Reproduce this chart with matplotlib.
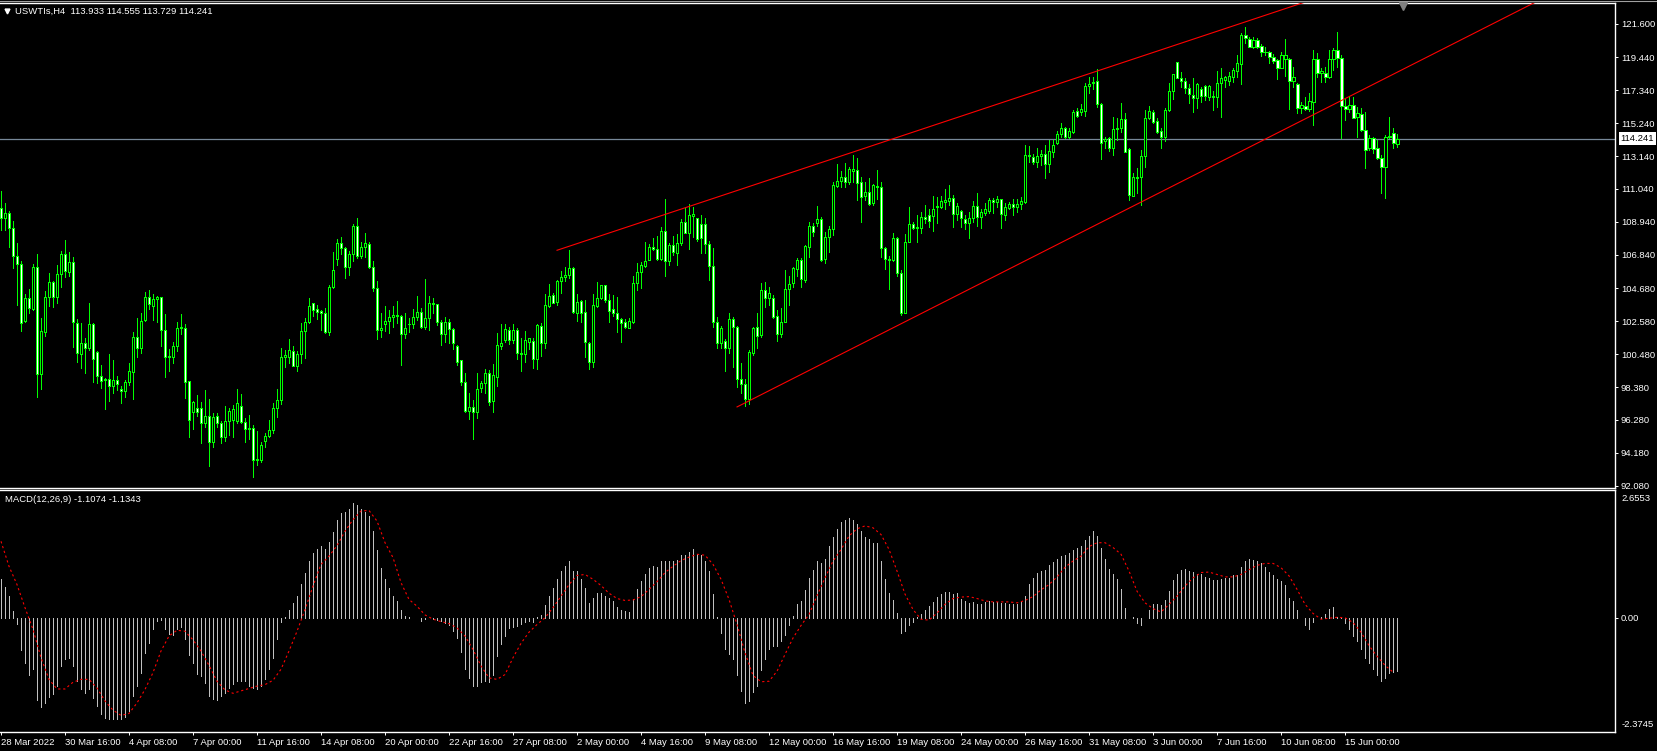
import numpy as np
import matplotlib.pyplot as plt
import matplotlib.transforms as mtransforms
from matplotlib.lines import Line2D

plt.rcParams['font.family'] = ['Liberation Sans', 'DejaVu Sans']
plt.rcParams['font.size'] = 6.8

# USWTIs H4 candles, bar 0 = 28 Mar 2022 00:00
open_px = [
    109.80, 109.16, 109.48, 108.57, 106.73, 106.22, 102.60, 104.05, 103.37, 106.07,
    99.20, 101.92, 104.12, 105.08, 104.16, 105.58, 106.86, 105.76, 106.39, 102.45,
    100.47, 101.18, 100.86, 102.39, 100.60, 99.11, 98.90, 98.87, 98.47, 98.83,
    98.24, 98.15, 98.68, 99.37, 101.56, 100.86, 102.67, 104.12, 103.58, 103.99,
    104.12, 102.03, 100.32, 100.28, 101.03, 102.13, 102.13, 98.77, 96.81, 97.02,
    97.02, 96.06, 96.53, 94.89, 96.55, 96.06, 95.17, 96.21, 96.28, 96.23,
    97.19, 96.17, 95.74, 95.74, 93.72, 93.72, 94.94, 95.25, 95.64, 97.02,
    97.55, 100.28, 100.28, 100.71, 99.75, 100.47, 101.98, 102.56, 103.73, 103.35,
    103.24, 103.09, 101.92, 104.75, 106.59, 107.57, 107.25, 106.03, 106.86, 108.67,
    106.78, 107.31, 107.50, 106.03, 104.69, 102.01, 102.39, 102.62, 102.84, 102.94,
    102.94, 101.75, 102.39, 102.41, 102.88, 103.20, 102.24, 102.82, 103.73, 103.67,
    102.56, 101.75, 102.52, 102.07, 101.03, 100.09, 98.68, 96.87, 97.09, 96.77,
    98.34, 98.62, 99.26, 97.51, 99.05, 101.03, 101.39, 102.03, 101.39, 102.03,
    100.54, 100.47, 101.28, 101.33, 100.15, 102.28, 101.18, 103.58, 104.26, 103.84,
    105.16, 105.39, 105.54, 105.97, 103.09, 103.88, 103.16, 101.22, 99.96, 103.58,
    104.05, 104.90, 103.95, 103.35, 103.09, 102.73, 102.56, 102.18, 102.56, 105.01,
    105.76, 106.14, 106.50, 107.31, 107.18, 106.59, 108.35, 106.46, 107.46, 106.93,
    107.57, 108.91, 108.25, 109.33, 109.16, 108.80, 108.78, 107.50, 106.14, 102.56,
    101.22, 101.35, 100.86, 102.73, 102.20, 98.90, 98.60, 97.60, 100.54, 102.20,
    101.71, 104.55, 104.06, 104.06, 102.95, 101.76, 102.56, 104.63, 105.01, 105.91,
    106.50, 105.23, 107.36, 108.68, 108.89, 109.10, 106.55, 107.99, 108.46, 111.25,
    111.53, 111.79, 111.51, 112.21, 112.26, 111.47, 110.59, 110.87, 110.13, 111.23,
    111.15, 107.25, 106.55, 106.50, 107.89, 105.65, 103.14, 107.68, 108.80, 108.59,
    108.53, 109.27, 109.38, 109.32, 109.87, 109.91, 110.23, 110.30, 110.45, 109.42,
    109.66, 109.13, 108.85, 109.17, 109.98, 109.23, 109.53, 109.66, 110.34, 110.19,
    110.38, 109.38, 109.81, 110.06, 109.91, 110.06, 110.23, 113.21, 113.11, 112.79,
    113.15, 113.27, 112.63, 113.42, 113.95, 114.53, 114.91, 114.38, 114.70, 116.02,
    115.97, 116.02, 117.61, 117.78, 117.93, 116.44, 114.12, 114.31, 113.63, 114.85,
    114.91, 115.51, 113.57, 110.61, 111.82, 111.82, 113.16, 115.55, 115.93, 115.40,
    114.74, 114.38, 116.08, 117.30, 119.13, 118.15, 117.93, 117.51, 117.04, 116.87,
    117.42, 117.61, 116.93, 116.93, 116.93, 117.79, 117.99, 117.93, 118.17, 118.57,
    119.00, 120.87, 120.60, 120.13, 120.55, 120.17, 119.77, 119.77, 119.49, 119.28,
    118.79, 119.32, 119.32, 117.95, 117.72, 116.23, 116.34, 116.15, 116.57, 119.32,
    118.47, 118.47, 118.21, 119.32, 119.92, 119.38, 116.34, 116.12, 116.40, 115.61,
    115.80, 114.80, 113.63, 114.27, 113.63, 113.00, 112.46, 114.38, 114.59, 113.933,
]
high_px = [
    110.91, 110.12, 109.65, 108.99, 107.57, 106.44, 104.31, 104.63, 106.22, 106.86,
    102.77, 104.52, 105.65, 105.16, 106.16, 107.08, 107.78, 106.99, 106.71, 102.71,
    102.45, 101.50, 103.73, 102.45, 100.69, 99.79, 98.94, 100.49, 100.11, 99.09,
    98.45, 98.83, 99.90, 101.88, 102.77, 103.09, 104.48, 104.58, 104.31, 104.20,
    104.16, 103.05, 100.79, 101.24, 102.52, 103.05, 102.39, 98.77, 97.49, 97.87,
    97.45, 98.19, 97.62, 96.70, 96.75, 96.21, 97.17, 97.02, 97.21, 98.26,
    97.94, 96.43, 96.60, 95.96, 95.57, 94.87, 95.42, 96.28, 97.34, 98.26,
    100.86, 100.75, 101.45, 101.01, 100.69, 102.50, 102.77, 104.07, 103.77, 103.60,
    103.31, 103.45, 104.90, 107.03, 107.82, 107.97, 107.31, 107.08, 108.80, 109.16,
    107.63, 108.21, 107.65, 106.44, 105.16, 103.09, 103.56, 103.31, 103.56, 103.88,
    102.99, 103.09, 102.77, 103.37, 104.20, 103.41, 105.29, 104.20, 104.05, 103.69,
    102.67, 102.88, 102.73, 102.14, 101.07, 100.11, 99.26, 98.02, 97.56, 99.26,
    98.77, 99.52, 99.47, 99.83, 101.82, 102.39, 102.41, 102.24, 102.41, 102.14,
    101.50, 101.96, 101.54, 101.50, 102.41, 102.45, 104.33, 104.97, 104.37, 105.22,
    105.80, 106.08, 107.14, 106.08, 104.33, 103.95, 103.95, 101.28, 104.33, 105.07,
    104.90, 104.90, 104.31, 104.26, 104.16, 102.77, 102.73, 102.77, 105.50, 106.29,
    106.40, 107.63, 107.52, 107.89, 108.03, 108.59, 110.38, 107.61, 108.06, 108.16,
    109.12, 109.80, 110.06, 109.91, 109.21, 109.38, 109.16, 107.72, 107.25, 102.88,
    102.29, 101.43, 103.10, 102.84, 102.25, 99.90, 98.90, 100.75, 102.24, 103.10,
    105.01, 105.08, 104.80, 104.27, 103.31, 103.41, 105.87, 105.48, 106.08, 106.61,
    106.61, 107.46, 108.95, 108.89, 109.95, 109.27, 108.27, 108.68, 111.51, 112.64,
    112.19, 112.68, 112.47, 113.21, 113.00, 111.77, 111.47, 111.72, 111.34, 112.26,
    111.47, 107.36, 106.76, 108.21, 107.95, 105.87, 108.14, 109.87, 108.95, 109.38,
    109.55, 110.02, 109.76, 110.59, 110.55, 110.59, 111.02, 111.30, 110.66, 110.13,
    109.70, 109.38, 109.59, 110.27, 110.79, 109.76, 110.13, 110.45, 110.45, 110.59,
    110.38, 110.17, 110.23, 110.38, 110.38, 110.51, 113.85, 113.79, 113.28, 113.64,
    113.53, 113.84, 114.16, 114.16, 114.74, 115.23, 115.02, 114.91, 116.08, 116.19,
    116.46, 117.79, 118.21, 118.21, 118.70, 116.51, 114.33, 114.38, 115.61, 115.55,
    116.51, 115.87, 113.63, 112.03, 112.35, 113.53, 116.08, 116.34, 116.08, 115.55,
    114.95, 116.19, 117.83, 118.38, 119.17, 118.53, 118.10, 117.72, 118.10, 117.78,
    117.57, 117.68, 117.68, 117.30, 118.59, 118.74, 118.25, 118.53, 118.74, 119.60,
    121.02, 121.36, 120.72, 120.72, 120.66, 120.30, 120.13, 119.87, 119.64, 119.34,
    119.81, 120.60, 119.38, 118.85, 117.78, 116.61, 116.89, 117.19, 119.92, 119.75,
    118.74, 118.85, 119.92, 120.06, 121.09, 119.60, 116.78, 116.93, 116.89, 116.29,
    116.23, 115.97, 114.48, 114.38, 114.16, 113.21, 114.48, 115.66, 114.91, 114.555,
]
low_px = [
    108.42, 108.42, 107.35, 106.01, 103.63, 101.98, 102.56, 103.14, 103.31, 97.77,
    98.26, 101.64, 103.56, 103.52, 103.77, 104.80, 105.44, 105.48, 100.96, 100.00,
    99.62, 99.26, 100.75, 98.73, 98.66, 98.34, 96.96, 97.51, 97.98, 98.19,
    97.34, 97.77, 98.51, 97.60, 100.32, 100.58, 102.60, 103.37, 102.67, 102.56,
    101.03, 99.05, 99.43, 99.94, 100.69, 101.75, 97.70, 95.21, 95.68, 96.53,
    94.83, 95.85, 93.36, 94.57, 95.85, 94.79, 94.94, 95.32, 95.21, 96.06,
    96.06, 94.89, 95.04, 92.66, 93.40, 93.62, 94.57, 95.17, 95.47, 96.49,
    97.30, 99.68, 99.90, 99.75, 99.43, 99.94, 100.26, 102.50, 102.92, 102.75,
    102.03, 101.86, 101.71, 104.69, 106.18, 106.86, 105.37, 105.54, 106.44, 106.65,
    106.65, 106.71, 106.01, 104.54, 101.43, 101.60, 101.96, 101.82, 102.24, 102.45,
    99.79, 101.50, 101.92, 102.14, 102.67, 102.18, 102.09, 102.03, 103.09, 102.35,
    101.07, 101.28, 101.22, 100.81, 99.79, 98.51, 96.81, 96.32, 95.06, 96.38,
    98.09, 97.98, 97.24, 96.81, 98.47, 100.81, 101.24, 101.11, 101.22, 100.15,
    99.41, 100.00, 100.81, 99.62, 99.54, 100.39, 100.90, 103.48, 103.73, 103.63,
    104.41, 105.18, 105.33, 103.09, 102.60, 102.56, 100.28, 99.54, 99.69, 103.52,
    104.01, 103.84, 102.52, 102.94, 101.92, 101.28, 102.14, 102.14, 102.50, 104.58,
    104.73, 106.08, 106.50, 107.14, 106.50, 106.50, 105.50, 106.18, 106.82, 106.18,
    107.46, 108.21, 107.20, 107.99, 107.74, 106.93, 106.93, 105.22, 102.24, 100.86,
    100.86, 99.43, 100.58, 99.69, 98.40, 98.00, 97.15, 97.30, 100.43, 100.86,
    101.61, 103.48, 103.63, 102.82, 101.33, 101.61, 102.52, 103.63, 104.80, 105.48,
    104.80, 105.12, 106.72, 108.04, 108.68, 106.46, 106.33, 107.04, 108.10, 111.19,
    111.19, 111.19, 111.36, 111.47, 110.34, 108.95, 110.34, 110.02, 110.02, 110.40,
    106.72, 105.93, 104.65, 106.46, 105.48, 102.99, 103.10, 107.63, 108.46, 107.68,
    108.25, 108.85, 108.59, 108.32, 108.89, 109.85, 109.76, 110.02, 108.59, 109.06,
    108.63, 108.46, 107.89, 108.95, 108.70, 108.53, 109.38, 109.53, 109.49, 109.91,
    108.53, 109.06, 109.74, 109.38, 109.59, 109.76, 110.17, 112.79, 112.64, 112.47,
    112.58, 111.76, 112.14, 113.10, 113.91, 114.34, 114.27, 114.27, 114.59, 115.66,
    115.76, 115.72, 117.19, 117.40, 116.30, 112.95, 113.67, 113.48, 113.21, 114.16,
    114.70, 113.38, 110.33, 110.59, 110.76, 110.01, 112.46, 115.48, 115.27, 114.63,
    113.63, 114.10, 116.04, 116.76, 118.10, 117.57, 117.19, 116.51, 115.97, 116.23,
    116.61, 116.72, 116.72, 116.08, 116.25, 115.66, 117.57, 117.68, 117.89, 118.21,
    117.74, 120.39, 120.09, 120.06, 120.02, 119.55, 119.60, 119.06, 119.06, 118.06,
    118.74, 118.25, 116.15, 117.57, 115.87, 115.91, 116.08, 116.02, 115.12, 118.21,
    117.89, 117.89, 118.10, 118.64, 118.85, 114.27, 115.44, 115.93, 115.55, 114.38,
    114.76, 112.40, 113.53, 113.31, 112.95, 110.80, 110.48, 114.27, 113.63, 113.729,
]
close_px = [
    109.16, 109.48, 108.57, 106.78, 106.22, 102.45, 104.05, 103.41, 106.03, 99.20,
    101.98, 104.16, 105.08, 104.16, 105.61, 106.86, 105.80, 106.35, 102.56, 100.54,
    101.18, 100.86, 102.39, 100.15, 99.11, 98.77, 98.83, 98.47, 98.83, 98.56,
    98.13, 98.68, 99.41, 101.56, 100.86, 102.60, 104.12, 103.67, 103.99, 104.16,
    102.03, 100.32, 100.37, 101.03, 102.13, 102.20, 98.73, 96.28, 97.41, 96.81,
    96.06, 96.55, 94.89, 96.45, 96.06, 95.17, 96.23, 96.87, 96.96, 97.34,
    96.13, 95.68, 95.70, 93.72, 93.78, 94.68, 95.25, 95.64, 97.02, 97.55,
    100.28, 100.43, 100.75, 99.75, 100.47, 101.98, 102.56, 103.56, 103.31, 103.20,
    103.09, 101.92, 104.75, 105.84, 107.57, 107.25, 106.03, 106.86, 108.67, 106.78,
    107.31, 107.57, 106.08, 104.69, 102.01, 102.14, 102.62, 102.84, 102.97, 102.99,
    101.75, 102.14, 102.43, 102.88, 103.20, 102.24, 102.77, 103.73, 103.67, 102.56,
    101.75, 102.56, 102.07, 101.22, 100.00, 98.68, 96.87, 97.09, 96.77, 98.26,
    98.62, 99.26, 97.45, 99.13, 101.05, 101.18, 102.07, 101.39, 102.03, 100.54,
    100.49, 101.39, 101.50, 100.15, 102.35, 101.18, 103.63, 104.22, 103.77, 105.16,
    105.44, 105.54, 105.97, 103.20, 103.84, 103.14, 101.24, 100.00, 103.63, 104.05,
    104.90, 103.95, 103.26, 103.09, 102.71, 102.45, 102.20, 102.60, 105.01, 105.71,
    106.16, 106.44, 107.35, 107.18, 106.59, 108.35, 106.46, 107.46, 107.03, 107.57,
    108.91, 108.25, 109.38, 109.42, 107.82, 107.89, 107.50, 106.14, 102.56, 101.22,
    102.14, 100.86, 102.73, 102.20, 98.90, 98.60, 97.60, 100.60, 102.14, 101.65,
    104.59, 104.06, 104.42, 102.88, 101.76, 102.56, 104.63, 104.95, 105.97, 106.50,
    105.27, 107.40, 108.68, 108.27, 109.10, 106.50, 107.99, 108.46, 111.30, 111.53,
    111.79, 111.51, 112.30, 112.30, 111.45, 110.55, 110.87, 110.08, 111.30, 111.15,
    107.25, 106.55, 106.50, 107.89, 105.65, 103.14, 107.63, 108.80, 108.57, 108.53,
    109.27, 109.10, 109.02, 109.74, 109.95, 110.27, 110.34, 110.45, 109.42, 109.98,
    109.17, 108.85, 109.17, 109.98, 109.23, 109.55, 109.74, 110.34, 110.19, 110.38,
    109.42, 109.87, 110.06, 109.87, 110.08, 110.27, 113.21, 113.17, 112.79, 113.15,
    113.26, 112.63, 113.46, 113.84, 114.55, 114.91, 114.38, 114.74, 115.97, 115.72,
    116.12, 117.61, 117.72, 117.89, 116.44, 113.95, 114.23, 113.63, 114.85, 114.91,
    115.51, 113.42, 110.65, 111.82, 111.76, 113.16, 115.55, 116.02, 115.29, 114.70,
    114.38, 116.08, 117.30, 118.36, 118.15, 117.93, 117.51, 117.08, 116.87, 117.72,
    116.99, 116.97, 117.61, 116.97, 117.79, 118.10, 118.21, 118.25, 118.64, 119.06,
    120.87, 120.66, 120.13, 120.55, 120.13, 119.77, 119.81, 119.45, 119.21, 118.79,
    119.60, 119.60, 117.95, 118.17, 116.23, 116.40, 116.15, 116.66, 119.32, 118.47,
    118.57, 118.21, 119.32, 119.92, 119.38, 116.34, 116.12, 116.40, 115.59, 115.91,
    114.80, 113.53, 114.27, 113.59, 113.00, 112.42, 114.38, 114.42, 113.95, 114.241,
]

# MACD(12,26,9) main line, one value per bar
macd_main = [
    0.81, 0.64, 0.45, 0.14, -0.12, -0.66, -0.94, -1.18, -1.07, -1.70,
    -1.85, -1.77, -1.64, -1.58, -1.42, -1.00, -0.85, -0.83, -1.00, -1.32,
    -1.49, -1.57, -1.49, -1.66, -1.84, -1.99, -2.08, -2.11, -2.11, -2.10,
    -2.11, -2.07, -1.94, -1.63, -1.42, -1.14, -0.73, -0.52, -0.24, -0.06,
    -0.05, -0.24, -0.33, -0.35, -0.24, -0.19, -0.45, -0.78, -0.94, -1.16,
    -1.21, -1.35, -1.63, -1.68, -1.70, -1.63, -1.56, -1.46, -1.37, -1.32,
    -1.32, -1.32, -1.41, -1.46, -1.48, -1.42, -1.28, -1.06, -0.83, -0.45,
    -0.09, 0.02, 0.16, 0.31, 0.46, 0.71, 0.94, 1.19, 1.34, 1.43,
    1.50, 1.42, 1.58, 1.78, 2.04, 2.18, 2.20, 2.27, 2.39, 2.34,
    2.27, 2.20, 2.11, 1.80, 1.40, 1.04, 0.81, 0.61, 0.46, 0.35,
    0.16, 0.03, 0.01, 0.00, -0.01, -0.06, -0.02, 0.00, -0.02, -0.05,
    -0.07, -0.10, -0.14, -0.28, -0.42, -0.71, -1.07, -1.25, -1.42, -1.41,
    -1.34, -1.32, -1.34, -1.18, -0.80, -0.55, -0.38, -0.21, -0.19, -0.17,
    -0.12, -0.09, -0.06, -0.09, 0.01, 0.05, 0.26, 0.46, 0.62, 0.80,
    0.97, 1.07, 1.19, 0.97, 0.97, 0.81, 0.62, 0.31, 0.42, 0.52,
    0.52, 0.46, 0.42, 0.35, 0.23, 0.17, 0.14, 0.12, 0.38, 0.59,
    0.76, 0.90, 1.03, 1.07, 1.06, 1.19, 1.19, 1.18, 1.18, 1.20,
    1.30, 1.30, 1.37, 1.43, 1.32, 1.30, 1.19, 0.97, 0.49, 0.01,
    -0.31, -0.64, -0.76, -0.85, -1.18, -1.52, -1.77, -1.73, -1.55, -1.42,
    -1.09, -0.85, -0.64, -0.59, -0.58, -0.49, -0.36, -0.14, 0.03, 0.28,
    0.35, 0.58, 0.83, 1.00, 1.19, 1.14, 1.23, 1.49, 1.68, 1.85,
    2.00, 2.03, 2.08, 2.04, 1.94, 1.80, 1.68, 1.64, 1.56, 1.55,
    1.18, 0.81, 0.51, 0.36, 0.09, -0.31, -0.28, -0.14, -0.09, 0.01,
    0.07, 0.17, 0.24, 0.33, 0.44, 0.49, 0.53, 0.54, 0.49, 0.51,
    0.40, 0.35, 0.30, 0.33, 0.28, 0.28, 0.33, 0.35, 0.33, 0.33,
    0.30, 0.31, 0.29, 0.29, 0.28, 0.35, 0.46, 0.71, 0.83, 0.94,
    0.97, 1.00, 1.09, 1.16, 1.23, 1.28, 1.30, 1.34, 1.41, 1.46,
    1.49, 1.61, 1.71, 1.80, 1.70, 1.46, 1.23, 1.02, 0.90, 0.81,
    0.59, 0.21, 0.00, 0.01, -0.10, -0.16, 0.00, 0.17, 0.28, 0.28,
    0.26, 0.36, 0.55, 0.78, 0.92, 1.00, 1.02, 0.98, 0.95, 0.90,
    0.90, 0.85, 0.83, 0.78, 0.78, 0.81, 0.83, 0.83, 0.88, 0.88,
    1.06, 1.18, 1.23, 1.21, 1.18, 1.13, 1.05, 0.95, 0.88, 0.80,
    0.76, 0.69, 0.42, 0.35, 0.17, 0.00, -0.16, -0.23, -0.09, 0.00,
    0.01, 0.07, 0.19, 0.23, 0.02, 0.01, -0.10, -0.23, -0.38, -0.49,
    -0.64, -0.83, -0.94, -1.07, -1.20, -1.32, -1.25, -1.14, -1.13, -1.1074,
]
# signal line read at every second bar (0, 2, 4, ... 348)
macd_signal = [
    1.59, 1.07, 0.69, 0.21, -0.24, -0.83, -1.28, -1.48, -1.48, -1.34,
    -1.28, -1.28, -1.46, -1.73, -1.92, -2.03, -1.99, -1.77, -1.49, -1.14,
    -0.69, -0.38, -0.26, -0.28, -0.46, -0.69, -0.99, -1.32, -1.50, -1.57,
    -1.52, -1.47, -1.42, -1.39, -1.30, -1.07, -0.69, -0.28, 0.17, 0.66,
    1.11, 1.28, 1.50, 1.80, 2.04, 2.22, 2.23, 2.01, 1.56, 1.25,
    0.73, 0.38, 0.24, 0.06, -0.03, -0.08, -0.12, -0.21, -0.38, -0.66,
    -1.00, -1.25, -1.28, -1.18, -0.83, -0.53, -0.30, -0.14, 0.00, 0.21,
    0.45, 0.69, 0.88, 0.90, 0.80, 0.67, 0.51, 0.40, 0.36, 0.37,
    0.44, 0.59, 0.75, 0.94, 1.07, 1.19, 1.26, 1.32, 1.30, 1.11,
    0.80, 0.38, -0.14, -0.73, -1.20, -1.33, -1.32, -1.11, -0.76, -0.42,
    -0.16, 0.07, 0.46, 0.83, 1.18, 1.42, 1.70, 1.85, 1.91, 1.87,
    1.73, 1.42, 0.97, 0.49, 0.17, -0.03, -0.05, 0.10, 0.28, 0.40,
    0.43, 0.44, 0.40, 0.35, 0.33, 0.33, 0.33, 0.31, 0.36, 0.44,
    0.58, 0.69, 0.85, 1.05, 1.18, 1.28, 1.48, 1.56, 1.56, 1.46,
    1.32, 0.97, 0.55, 0.31, 0.19, 0.12, 0.28, 0.45, 0.66, 0.83,
    0.94, 0.95, 0.90, 0.85, 0.85, 0.90, 1.00, 1.09, 1.13, 1.13,
    1.04, 0.87, 0.59, 0.28, 0.09, -0.03, -0.01, 0.01, 0.00, -0.10,
    -0.30, -0.58, -0.80, -0.99, -1.13,
]

price_ticks = [121.600, 119.440, 117.340, 115.240, 113.140, 111.040, 108.940,
               106.840, 104.680, 102.580, 100.480, 98.380, 96.280, 94.180, 92.080]
time_labels = ['28 Mar 2022', '30 Mar 16:00', '4 Apr 08:00', '7 Apr 00:00',
               '11 Apr 16:00', '14 Apr 08:00', '20 Apr 00:00', '22 Apr 16:00',
               '27 Apr 08:00', '2 May 00:00', '4 May 16:00', '9 May 08:00',
               '12 May 00:00', '16 May 16:00', '19 May 08:00', '24 May 00:00',
               '26 May 16:00', '31 May 08:00', '3 Jun 00:00', '7 Jun 16:00',
               '10 Jun 08:00', '15 Jun 00:00']

# trend line anchors (bar index, price)
upper_bars = [139, 324]
upper_prices = [107.12, 122.81]
lower_bars = [184, 330]
lower_prices = [97.11, 116.03]

bid = 114.241
macd_max = 2.6553
macd_min = -2.3745

LIME = '#00ff00'
XLIM = (-0.25, 403.5)
FS = 6.8


def style_axis(ax):
    ax.set_facecolor('black')
    ax.spines['left'].set_visible(False)
    for s in ['top', 'bottom', 'right']:
        ax.spines[s].set_color('white')
        ax.spines[s].set_linewidth(1)
    ax.yaxis.tick_right()
    ax.tick_params(axis='y', colors='white', direction='out', length=2.2,
                   width=0.7, pad=2, labelsize=FS)
    ax.set_xlim(*XLIM)


def draw_prices(ax):
    x = np.arange(len(close_px))
    o = np.array(open_px)
    c = np.array(close_px)
    ax.vlines(x, low_px, high_px, color=LIME, lw=0.5, antialiased=False, zorder=2)
    face = ['white' if cc < oo else 'black' for oo, cc in zip(o, c)]
    ax.bar(x, np.abs(c - o), bottom=np.minimum(o, c), width=0.72, color=face,
           edgecolor=LIME, linewidth=0.5, antialiased=False, zorder=3)

    # red trend lines, drawn as rays to the right
    for bars, prices in [(upper_bars, upper_prices), (lower_bars, lower_prices)]:
        slope = (prices[1] - prices[0]) / (bars[1] - bars[0])
        xe = XLIM[1] + 5
        ax.plot([bars[0], xe], [prices[0], prices[0] + slope * (xe - bars[0])],
                color='red', lw=0.8, zorder=4)

    ax.axhline(bid, color='#778899', lw=0.9, zorder=1)

    ax.set_ylim(91.93, 122.90)
    style_axis(ax)
    ax.set_xticks([])
    ax.set_yticks(price_ticks)
    ax.set_yticklabels(['%.3f' % v for v in price_ticks])

    tr = mtransforms.blended_transform_factory(ax.transAxes, ax.transData)
    ax.text(1.0035, bid, '%.3f' % bid, transform=tr, ha='left', va='center',
            color='black', fontsize=FS, clip_on=False,
            bbox=dict(boxstyle='square,pad=0.22', fc='white', ec='none'))

    ax.plot([0.0042], [0.984], marker='v', color='white', ms=3.5,
            transform=ax.transAxes, clip_on=False)
    ax.text(0.0095, 0.984, 'USWTIs,H4  %.3f %.3f %.3f %.3f'
            % (open_px[-1], high_px[-1], low_px[-1], close_px[-1]),
            transform=ax.transAxes, color='white', fontsize=FS, va='center')
    # chart shift marker
    ax.plot([0.8687], [0.9935], marker='v', color='#808080', ms=6,
            transform=ax.transAxes, clip_on=False, zorder=5)


def draw_macd(ax):
    x = np.arange(len(macd_main))
    ax.vlines(x, 0, macd_main, color='#c0c0c0', lw=0.5, antialiased=False)
    xs = np.arange(0, 2 * len(macd_signal), 2)
    ax.plot(xs, macd_signal, color='red', lw=0.8, ls=(0, (2, 2.5)))

    ax.set_ylim(macd_min, macd_max)
    style_axis(ax)
    ax.set_yticks([0])
    ax.set_yticklabels(['0.00'])
    ax.text(1.004, 0.985, '%.4f' % macd_max, transform=ax.transAxes,
            color='white', fontsize=FS, va='top')
    ax.text(1.004, 0.012, '%.4f' % macd_min, transform=ax.transAxes,
            color='white', fontsize=FS, va='bottom')
    ax.text(0.003, 0.96, 'MACD(12,26,9) %.4f %.4f' % (macd_main[-1], -1.1343),
            transform=ax.transAxes, color='white', fontsize=FS, va='center')

    ax.set_xticks(np.arange(len(time_labels)) * 16)
    ax.set_xticklabels(time_labels)
    ax.tick_params(axis='x', colors='white', direction='out', length=2.2,
                   width=0.7, pad=2, labelsize=FS)
    for lab in ax.get_xticklabels():
        lab.set_ha('left')


fig = plt.figure(figsize=(16.57, 7.51), dpi=100, facecolor='black')
ax1 = fig.add_axes([0, 0.3502, 0.9747, 0.6454])
ax2 = fig.add_axes([0, 0.0253, 0.9747, 0.3222])
draw_prices(ax1)
draw_macd(ax2)
fig.add_artist(Line2D([0, 1], [1 - 1.2 / 751] * 2, transform=fig.transFigure,
                      color='#a0a0a0', lw=0.8))
fig.savefig('out.png', dpi=100, facecolor='black')
